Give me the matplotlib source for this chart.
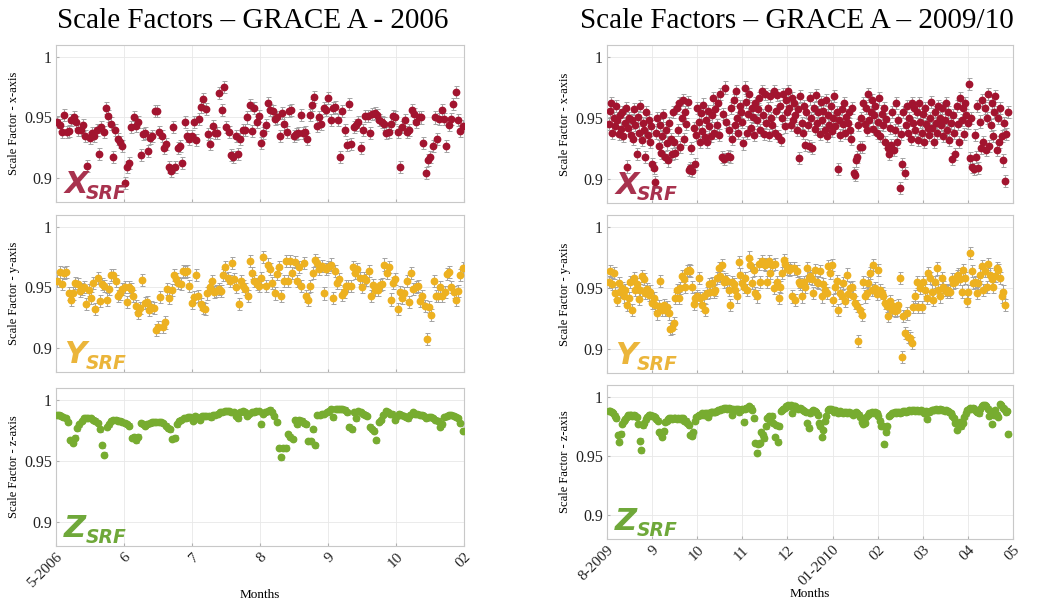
import numpy as np
import matplotlib
matplotlib.use("Agg")
import matplotlib.pyplot as plt

# scale factor values in units of 1e-3 (daily samples)
x_2006 = [946, 944, 938, 952, 938, 939, 948, 950, 946, 940, 940, 944, 935, 910, 933, 937, 935, 940, 920, 942,
          938, 958, 951, 945, 917, 940, 932, 930, 926, 896, 909, 912, 942, 950, 943, 946, 919, 936, 937, 922,
          933, 935, 955, 955, 938, 935, 925, 928, 909, 906, 942, 909, 925, 926, 912, 946, 935, 932, 935, 946,
          931, 949, 959, 965, 957, 936, 928, 943, 937, 937, 970, 956, 975, 942, 938, 919, 917, 935, 920, 932,
          940, 940, 950, 960, 939, 958, 946, 951, 929, 937, 944, 962, 956, 955, 949, 950, 935, 954, 945, 938,
          955, 956, 935, 936, 937, 952, 937, 938, 932, 952, 960, 967, 943, 950, 945, 958, 956, 966, 948, 958,
          959, 948, 917, 955, 940, 927, 961, 928, 942, 944, 946, 925, 940, 951, 951, 937, 953, 954, 952, 948,
          946, 945, 937, 938, 945, 951, 950, 938, 909, 942, 948, 938, 940, 956, 953, 946, 950, 950, 929, 904,
          915, 917, 926, 950, 932, 949, 956, 949, 926, 944, 949, 961, 971, 948, 939, 943]
y_2006 = [955, 963, 953, 962, 963, 945, 940, 945, 954, 953, 947, 949, 950, 936, 948, 941, 954, 932, 958, 939,
          953, 951, 940, 949, 960, 960, 955, 943, 945, 949, 950, 938, 950, 949, 943, 935, 929, 933, 956, 937,
          938, 931, 934, 933, 915, 917, 942, 917, 921, 949, 941, 948, 960, 957, 954, 953, 964, 963, 964, 951,
          937, 942, 960, 943, 936, 933, 932, 945, 950, 955, 946, 947, 949, 947, 960, 967, 958, 955, 970, 957,
          950, 936, 955, 951, 949, 943, 972, 962, 955, 953, 951, 958, 975, 951, 969, 965, 954, 945, 961, 967,
          943, 955, 972, 955, 972, 962, 971, 955, 967, 951, 970, 943, 940, 951, 962, 973, 970, 965, 968, 945,
          965, 967, 969, 941, 964, 954, 957, 944, 946, 951, 951, 951, 967, 962, 965, 958, 950, 958, 956, 964,
          943, 952, 948, 948, 952, 953, 969, 962, 967, 940, 954, 957, 932, 946, 941, 945, 955, 938, 962, 949,
          950, 951, 939, 943, 935, 907, 934, 927, 955, 943, 943, 950, 943, 946, 961, 963, 950, 946, 940, 947,
          960, 966]
z_2006 = [988, 988, 987, 986, 985, 982, 967, 965, 969, 977, 980, 983, 985, 985, 985, 985, 984, 983, 981, 976,
          963, 955, 978, 980, 983, 984, 984, 983, 983, 982, 981, 980, 979, 969, 970, 967, 970, 981, 980, 979,
          980, 981, 982, 982, 982, 982, 982, 981, 979, 977, 976, 968, 969, 980, 983, 984, 985, 985, 986, 986,
          983, 987, 986, 984, 987, 987, 987, 987, 986, 988, 988, 989, 990, 990, 991, 991, 991, 990, 990, 987,
          985, 990, 991, 990, 987, 989, 990, 990, 991, 991, 980, 989, 990, 991, 992, 990, 987, 982, 961, 953,
          961, 961, 972, 970, 968, 984, 980, 984, 983, 981, 980, 966, 966, 976, 963, 988, 988, 989, 989, 990,
          991, 993, 986, 993, 993, 993, 993, 992, 990, 978, 976, 990, 985, 991, 990, 989, 988, 987, 978, 976,
          975, 967, 982, 984, 988, 991, 990, 989, 989, 984, 987, 989, 988, 987, 986, 985, 988, 990, 989, 989,
          988, 988, 987, 985, 986, 986, 985, 984, 983, 978, 980, 986, 987, 988, 988, 987, 986, 985, 981, 975]

x_2009 = [945, 956, 962, 938, 950, 943, 960, 948, 937, 952, 941,
          955, 935, 946, 958, 910, 942, 950, 936, 948, 933, 957,
          944, 920, 951, 938, 960, 932, 946, 940, 918, 955, 936,
          948, 930, 943, 912, 909, 897, 938, 950, 927, 944, 921,
          935, 952, 918, 940, 929, 915, 946, 933, 920, 955, 930,
          921, 958, 940, 962, 926, 950, 965, 933, 955, 945, 963,
          907, 909, 925, 906, 942, 912, 936, 958, 947, 930, 954,
          939, 961, 934, 948, 930, 956, 943, 935, 952, 966, 938,
          957, 944, 962, 936, 970, 918, 953, 916, 975, 947, 919,
          940, 918, 958, 933, 965, 944, 972, 950, 938, 960, 955,
          947, 929, 975, 963, 938, 953, 970, 942, 958, 951, 936,
          962, 948, 957, 966, 940, 972, 952, 937, 970, 946, 958,
          936, 968, 950, 944, 972, 938, 956, 969, 935, 960, 932,
          950, 970, 943, 965, 955, 972, 958, 944, 966, 948, 962,
          952, 940, 957, 917, 968, 946, 938, 960, 928, 955, 944,
          927, 966, 950, 925, 958, 941, 969, 946, 955, 937, 963,
          948, 956, 940, 965, 935, 952, 944, 960, 939, 950, 968,
          943, 955, 908, 948, 936, 957, 945, 962, 938, 951, 946,
          955, 940, 933, 958, 905, 903, 915, 918, 944, 926, 950,
          926, 962, 945, 958, 940, 970, 948, 955, 965, 941, 952,
          960, 938, 947, 966, 935, 953, 944, 958, 930, 949, 925,
          920, 942, 928, 955, 924, 940, 962, 930, 948, 892, 937,
          912, 955, 905, 944, 960, 938, 950, 933, 962, 946, 958,
          940, 955, 932, 962, 947, 938, 953, 930, 958, 945, 942,
          936, 950, 963, 942, 930, 955, 946, 938, 960, 950, 944,
          958, 935, 948, 962, 940, 955, 932, 946, 916, 952, 938,
          920, 960, 945, 930, 966, 948, 958, 937, 962, 952, 946,
          978, 917, 950, 910, 908, 936, 918, 960, 909, 947, 925,
          965, 930, 958, 924, 950, 970, 927, 944, 962, 935, 955,
          968, 924, 950, 930, 958, 935, 915, 946, 898, 937, 955]
y_2009 = [955, 964, 953, 962, 946, 940, 954, 947, 950, 943, 948, 936, 942, 955, 932, 958, 948, 953, 941, 948,
          960, 957, 946, 949, 944, 947, 938, 942, 936, 929, 935, 956, 932, 936, 932, 934, 929, 916, 917, 921,
          942, 948, 942, 950, 960, 957, 951, 964, 965, 964, 951, 937, 942, 943, 958, 942, 936, 943, 932, 946,
          953, 947, 954, 947, 948, 958, 966, 960, 969, 955, 957, 956, 948, 936, 955, 953, 948, 943, 971, 961,
          954, 951, 958, 948, 975, 969, 954, 965, 946, 943, 970, 955, 972, 970, 969, 955, 972, 962, 969, 950,
          970, 955, 942, 951, 962, 973, 970, 966, 965, 966, 943, 966, 940, 964, 955, 953, 943, 955, 951, 966,
          958, 960, 957, 946, 965, 955, 954, 964, 943, 953, 948, 946, 968, 962, 969, 940, 951, 956, 932, 946,
          943, 954, 939, 961, 945, 950, 951, 943, 938, 935, 906, 932, 928, 955, 943, 946, 954, 962, 948, 969,
          950, 945, 965, 948, 946, 943, 938, 935, 927, 939, 932, 935, 931, 932, 936, 958, 893, 927, 913, 929,
          910, 909, 905, 934, 943, 955, 934, 950, 934, 955, 948, 942, 962, 958, 947, 940, 955, 966, 948, 943,
          958, 951, 948, 947, 948, 947, 957, 954, 955, 960, 961, 957, 947, 965, 958, 939, 947, 979, 964, 954,
          955, 946, 954, 961, 968, 948, 964, 951, 970, 961, 957, 951, 960, 966, 965, 958, 943, 947, 936]
z_2009 = [988, 988, 987, 986, 984, 982, 968, 962, 969, 977,
          980, 981, 983, 985, 985, 985, 984, 985, 984, 983,
          977, 963, 955, 976, 978, 981, 983, 985, 985, 984,
          984, 983, 981, 980, 970, 969, 966, 971, 979, 980,
          981, 982, 982, 981, 982, 982, 981, 982, 981, 982,
          982, 980, 980, 978, 976, 968, 967, 970, 980, 983,
          984, 985, 985, 986, 985, 986, 986, 983, 986, 987,
          987, 987, 987, 988, 989, 989, 990, 990, 991, 991,
          990, 991, 990, 985, 990, 989, 990, 990, 987, 989,
          990, 979, 990, 991, 991, 992, 991, 989, 982, 961,
          953, 960, 961, 970, 968, 965, 975, 982, 984, 980,
          984, 978, 966, 976, 962, 975, 988, 989, 990, 991,
          992, 993, 992, 993, 986, 992, 992, 991, 990, 991,
          990, 989, 988, 987, 978, 974, 986, 988, 989, 988,
          987, 985, 978, 975, 966, 972, 980, 984, 989, 990,
          990, 989, 987, 989, 988, 986, 988, 987, 986, 987,
          987, 986, 987, 986, 986, 985, 986, 987, 986, 985,
          983, 979, 977, 978, 983, 985, 986, 986, 987, 986,
          987, 986, 984, 980, 975, 975, 960, 970, 975, 984,
          985, 986, 986, 987, 986, 987, 987, 986, 987, 988,
          988, 987, 988, 989, 988, 989, 989, 988, 989, 988,
          988, 989, 988, 986, 988, 981, 987, 988, 989, 989,
          989, 990, 989, 989, 990, 989, 989, 988, 989, 988,
          987, 986, 984, 982, 978, 972, 978, 979, 975, 978,
          983, 986, 989, 990, 991, 990, 991, 990, 988, 987,
          986, 990, 992, 993, 993, 992, 990, 984, 988, 977,
          985, 989, 985, 983, 994, 993, 991, 990, 987, 988, 969]

err_xy = 0.005
err_z = 0.002

ticks_2006 = ['5-2006', '6', '7', '8', '9', '10', '02']
ticks_2009 = ['8-2009', '9', '10', '11', '12', '01-2010', '02', '03', '04', '05']

titles = ['Scale Factors \u2013 GRACE A - 2006', 'Scale Factors \u2013 GRACE A \u2013 2009/10']
ylabels = ['Scale Factor - x-axis', 'Scale Factor - y-axis', 'Scale Factor - z-axis']
tags = ['X', 'Y', 'Z']
colors = ['#A2142F', '#EDB120', '#77AC30']
tag_colors = ['#A8324E', '#EBB53A', '#6FA83A']

W, H = 1042, 605
fig = plt.figure(figsize=(W / 100, H / 100), dpi=100)
serif = 'Liberation Serif'


def px_axes(l, t, r, b):
    return fig.add_axes([l / W, 1 - b / H, (r - l) / W, (b - t) / H])


def panel(ax, vals, start, end, nmonths, color, tag, tag_color, ylab, err, ticklabels, last, xlab_y):
    v = np.array(vals) / 1000.0
    x = np.linspace(start, end, len(v))
    ax.errorbar(x, v, yerr=err, fmt='none', ecolor='#a3a3a3', elinewidth=0.7,
                capsize=1.8, capthick=0.7, zorder=2)
    ax.plot(x, v, 'o', color=color, ms=4.6, mec=color, zorder=3)
    ax.set_xlim(0, nmonths)
    ax.set_ylim(0.88, 1.01)
    ax.set_yticks([0.9, 0.95, 1.0])
    ax.set_yticklabels(['0.9', '0.95', '1'], fontfamily=serif, fontsize=11.5)
    ax.set_xticks(np.arange(nmonths + 1))
    if last:
        ax.set_xticklabels(ticklabels, rotation=45, ha='right', rotation_mode='anchor',
                           fontfamily=serif, fontsize=11)
        ax.set_xlabel('Months', fontfamily=serif, fontsize=9.5, va='center')
        ax.xaxis.set_label_coords(0.5, xlab_y)
    else:
        ax.set_xticklabels([])
    ax.set_ylabel(ylab, fontfamily=serif, fontsize=9, labelpad=3)
    ax.grid(True, color='#e8e8e8', lw=0.6)
    ax.set_axisbelow(True)
    for s in ax.spines.values():
        s.set_color('#c8c8c8')
        s.set_linewidth(0.8)
    ax.tick_params(direction='in', length=2.5, color='#b0b0b0', pad=3, labelcolor='#222222')
    ax.text(0.02, 0.06, tag, transform=ax.transAxes, fontsize=22, fontweight='bold',
            fontstyle='italic', fontfamily='DejaVu Sans', color=tag_color, zorder=5)
    ax.text(0.072, 0.02, 'SRF', transform=ax.transAxes, fontsize=13.5, fontweight='bold',
            fontstyle='italic', fontfamily='DejaVu Sans', color=tag_color, zorder=5)


left_boxes = [(56, 45, 464, 202), (56, 215, 464, 372), (56, 388, 464, 546)]
right_boxes = [(607, 45, 1013, 203), (607, 215, 1013, 373), (607, 385, 1013, 539)]
left_data = [x_2006, y_2006, z_2006]
right_data = [x_2009, y_2009, z_2009]
left_span = [(0.02, 5.98), (0.02, 5.98), (0.01, 5.98)]
right_span = [(0.04, 8.88), (0.04, 8.82), (0.04, 8.90)]

for i in range(3):
    err = err_z if i == 2 else err_xy
    ax = px_axes(*left_boxes[i])
    panel(ax, left_data[i], left_span[i][0], left_span[i][1], 6, colors[i], tags[i],
          tag_colors[i], ylabels[i], err, ticks_2006, i == 2, -0.31)
    ax = px_axes(*right_boxes[i])
    panel(ax, right_data[i], right_span[i][0], right_span[i][1], 9, colors[i], tags[i],
          tag_colors[i], ylabels[i], err, ticks_2009, i == 2, -0.357)

fig.text(253 / W, 1 - 21 / H, titles[0], ha='center', va='center', fontfamily=serif, fontsize=21)
fig.text(797 / W, 1 - 21 / H, titles[1], ha='center', va='center', fontfamily=serif, fontsize=21)

fig.savefig('out.png', dpi=100)
